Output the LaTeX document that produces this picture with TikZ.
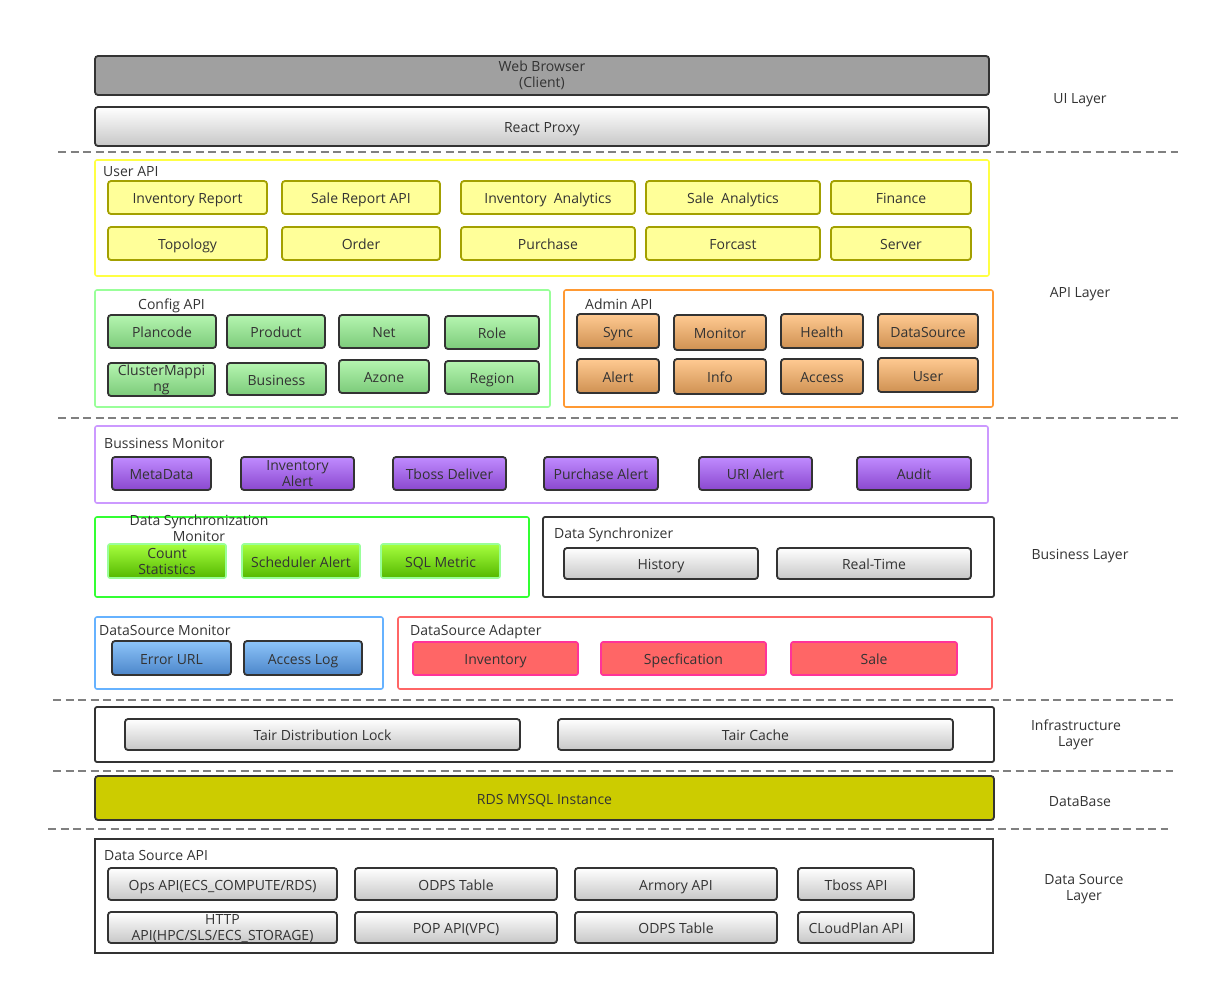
\documentclass[tikz,border=0pt]{standalone}
\usepackage{fontspec}
\setmainfont{Open Sans}
\definecolor{txt}{HTML}{333333}
\definecolor{dk}{HTML}{333333}
\definecolor{webg}{HTML}{A0A0A0}
\definecolor{yfill}{HTML}{FFFF99}
\definecolor{ydraw}{HTML}{A3A000}
\definecolor{ybox}{HTML}{FFFF44}
\definecolor{gtop}{HTML}{B5F5B0}
\definecolor{gbot}{HTML}{7CCB7A}
\definecolor{gbox}{HTML}{99FF99}
\definecolor{otop}{HTML}{FFCA92}
\definecolor{obot}{HTML}{CF9152}
\definecolor{obox}{HTML}{FF9933}
\definecolor{ptop}{HTML}{C08BFF}
\definecolor{pbot}{HTML}{8A48CF}
\definecolor{pbox}{HTML}{CC99FF}
\definecolor{ltop}{HTML}{A6FF3E}
\definecolor{lbot}{HTML}{55B800}
\definecolor{lbox}{HTML}{33FF33}
\definecolor{btop}{HTML}{8DC4F9}
\definecolor{bbot}{HTML}{4C86CA}
\definecolor{bbox}{HTML}{66B2FF}
\definecolor{rfill}{HTML}{FF6666}
\definecolor{rdraw}{HTML}{FF3399}
\definecolor{rbox}{HTML}{FF6666}
\definecolor{rds}{HTML}{CCCC00}
\definecolor{sep}{HTML}{808080}
\newcommand\mystrut{\rule[-4.5pt]{0pt}{21.5pt}}
% single-line box
\newcommand\bx[7]{\node[#6, minimum width={(#4-#2)*1pt}, minimum height={(#5-#3)*1pt}] (#1) at ({(#2+#4)/2},{(#3+#5)/2}) {\mystrut#7};}
% multi-line box (text shifted by #8)
\newcommand\bxm[8]{\node[#6, minimum width={(#4-#2)*1pt}, minimum height={(#5-#3)*1pt}] (#1) at ({(#2+#4)/2},{(#3+#5)/2}) {};
  \node[inner sep=0pt, align=center, text=txt] (#1t) at ([yshift=-#8pt]#1.center) {#7};}
\begin{document}
\begin{tikzpicture}[x=1pt,y=-1pt,
  font=\fontsize{14}{16}\selectfont, text=txt,
  base/.style={rectangle, inner sep=0pt, align=center, text=txt, font=\fontsize{14}{16}\selectfont},
  ctn/.style={base, rounded corners=2pt, line width=1.6pt},
  dkbox/.style={base, draw=dk, line width=1.8pt, rounded corners=3pt},
  graybox/.style={dkbox, top color=white, bottom color=black!22},
  webbox/.style={dkbox, fill=webg},
  ybtn/.style={base, draw=ydraw, line width=1.8pt, rounded corners=3pt, fill=yfill},
  gbtn/.style={dkbox, top color=gtop, bottom color=gbot},
  obtn/.style={dkbox, top color=otop, bottom color=obot},
  pbtn/.style={dkbox, top color=ptop, bottom color=pbot},
  lbtn/.style={base, draw=gbox, line width=1.6pt, rounded corners=2pt, top color=ltop, bottom color=lbot},
  bbtn/.style={dkbox, top color=btop, bottom color=bbot},
  rbtn/.style={base, draw=rdraw, line width=1.6pt, rounded corners=2pt, fill=rfill},
  rdsbox/.style={dkbox, fill=rds},
  lbl/.style={inner sep=0pt, anchor=west, text=txt, execute at begin node=\mystrut},
  layer/.style={inner sep=0pt, align=center, text=txt},
  sepline/.style={draw=sep, line width=1.5pt, dash pattern=on 8pt off 4.5pt}
]
\useasboundingbox (0,0) rectangle (1210,985);

% separators
\coordinate (s1a) at (58,152); \coordinate (s1b) at (1178,152);
\coordinate (s2a) at (58,418); \coordinate (s2b) at (1178,418);
\coordinate (s3a) at (53,700); \coordinate (s3b) at (1173,700);
\coordinate (s4a) at (53,771); \coordinate (s4b) at (1173,771);
\coordinate (s5a) at (48,829); \coordinate (s5b) at (1168,829);
\draw[sepline] (s1a) -- (s1b);
\draw[sepline] (s2a) -- (s2b);
\draw[sepline] (s3a) -- (s3b);
\draw[sepline] (s4a) -- (s4b);
\draw[sepline] (s5a) -- (s5b);

% UI layer
\bxm{web}{95}{56}{989}{95}{webbox}{Web Browser\\(Client)}{0}
\bx{proxy}{95}{107}{989}{146}{graybox}{React Proxy}

% User API
\bx{userapi}{95}{160}{989}{276}{ctn, draw=ybox}{}
\node[lbl] (userlbl) at (103,170) {User API};
\bx{u1}{108}{181}{267}{214}{ybtn}{Inventory Report}
\bx{u2}{282}{181}{440}{214}{ybtn}{Sale Report API}
\bx{u3}{461}{181}{635}{214}{ybtn}{Inventory\ \ Analytics}
\bx{u4}{646}{181}{820}{214}{ybtn}{Sale\ \ Analytics}
\bx{u5}{831}{181}{971}{214}{ybtn}{Finance}
\bx{u6}{108}{227}{267}{260}{ybtn}{Topology}
\bx{u7}{282}{227}{440}{260}{ybtn}{Order}
\bx{u8}{461}{227}{635}{260}{ybtn}{Purchase}
\bx{u9}{646}{227}{820}{260}{ybtn}{Forcast}
\bx{u10}{831}{227}{971}{260}{ybtn}{Server}

% Config API
\bx{cfg}{95}{290}{550}{407}{ctn, draw=gbox}{}
\node[lbl] (cfglbl) at (138,303) {Config API};
\bx{c1}{108}{315}{216}{348}{gbtn}{Plancode}
\bx{c2}{227}{315}{325}{348}{gbtn}{Product}
\bx{c3}{339}{315}{429}{348}{gbtn}{Net}
\bx{c4}{445}{316}{539}{349}{gbtn}{Role}
\bxm{c5}{108}{363}{215}{396}{gbtn}{ClusterMappi\\ng}{0.5}
\bx{c6}{227}{363}{326}{395}{gbtn}{Business}
\bx{c7}{339}{360}{429}{393}{gbtn}{Azone}
\bx{c8}{445}{361}{539}{394}{gbtn}{Region}

% Admin API
\bx{adm}{564}{290}{993}{407}{ctn, draw=obox}{}
\node[lbl] (admlbl) at (585,303) {Admin API};
\bx{a1}{577}{314}{659}{348}{obtn}{Sync}
\bx{a2}{674}{315}{766}{350}{obtn}{Monitor}
\bx{a3}{781}{314}{863}{348}{obtn}{Health}
\bx{a4}{878}{314}{978}{348}{obtn}{DataSource}
\bx{a5}{577}{359}{659}{393}{obtn}{Alert}
\bx{a6}{674}{359}{766}{394}{obtn}{Info}
\bx{a7}{781}{359}{863}{394}{obtn}{Access}
\bx{a8}{878}{358}{978}{392}{obtn}{User}

% Bussiness Monitor
\bx{bm}{95}{426}{988}{503}{ctn, draw=pbox}{}
\node[lbl] (bmlbl) at (104,442) {Bussiness Monitor};
\bx{p1}{112}{457}{211}{490}{pbtn}{MetaData}
\bxm{p2}{241}{457}{354}{490}{pbtn}{Inventory\\Alert}{0}
\bx{p3}{393}{457}{506}{490}{pbtn}{Tboss Deliver}
\bx{p4}{544}{457}{658}{490}{pbtn}{Purchase Alert}
\bx{p5}{699}{457}{812}{490}{pbtn}{URI Alert}
\bx{p6}{857}{457}{971}{490}{pbtn}{Audit}

% Data Synchronization Monitor
\bx{dsm}{95}{517}{529}{597}{ctn, draw=lbox}{}
\node[layer] (dsmlbl) at (199,528.5) {Data Synchronization\\Monitor};
\bxm{l1}{108}{544}{226}{578}{lbtn}{Count\\Statistics}{0}
\bx{l2}{242}{544}{360}{578}{lbtn}{Scheduler Alert}
\bx{l3}{381}{544}{500}{578}{lbtn}{SQL Metric}

% Data Synchronizer
\bx{dsy}{543}{517}{994}{597}{ctn, draw=dk, line width=1.8pt}{}
\node[lbl] (dsylbl) at (554,532) {Data Synchronizer};
\bx{h1}{564}{548}{758}{579}{graybox}{History}
\bx{h2}{777}{548}{971}{579}{graybox}{Real-Time}

% DataSource Monitor
\bx{dmon}{95}{617}{383}{689}{ctn, draw=bbox}{}
\node[lbl] (dmonlbl) at (99,629) {DataSource Monitor};
\bx{b1}{112}{641}{231}{675}{bbtn}{Error URL}
\bx{b2}{244}{641}{362}{675}{bbtn}{Access Log}

% DataSource Adapter
\bx{dad}{398}{617}{992}{689}{ctn, draw=rbox}{}
\node[lbl] (dadlbl) at (410,629) {DataSource Adapter};
\bx{r1}{413}{642}{578}{675}{rbtn}{Inventory}
\bx{r2}{601}{642}{766}{675}{rbtn}{Specfication}
\bx{r3}{791}{642}{957}{675}{rbtn}{Sale}

% Infrastructure
\bx{infra}{95}{707}{994}{762}{ctn, draw=dk, line width=1.8pt}{}
\bx{t1}{125}{719}{520}{750}{graybox}{Tair Distribution Lock}
\bx{t2}{558}{719}{953}{750}{graybox}{Tair Cache}

% Database
\bx{rdsn}{95}{776}{994}{820}{rdsbox}{RDS MYSQL Instance}

% Data Source API
\bx{dsapi}{95}{839}{993}{953}{base, draw=dk, line width=1.8pt}{}
\node[lbl] (dsapilbl) at (104,854) {Data Source API};
\bx{d1}{108}{868}{337}{900}{graybox}{Ops API(ECS\_COMPUTE/RDS)}
\bx{d2}{355}{868}{557}{900}{graybox}{ODPS Table}
\bx{d3}{575}{868}{777}{900}{graybox}{Armory API}
\bx{d4}{798}{868}{914}{900}{graybox}{Tboss API}
\bxm{d5}{108}{912}{337}{943}{graybox}{HTTP\\API(HPC/SLS/ECS\_STORAGE)}{1.5}
\bx{d6}{355}{912}{557}{943}{graybox}{POP API(VPC)}
\bx{d7}{575}{912}{777}{943}{graybox}{ODPS Table}
\bx{d8}{798}{912}{914}{943}{graybox}{CLoudPlan API}

% layer labels
\node[lbl, anchor=center] (ly1) at (1080,97) {UI Layer};
\node[lbl, anchor=center] (ly2) at (1080,291) {API Layer};
\node[lbl, anchor=center] (ly3) at (1080,553) {Business Layer};
\node[layer] (ly4) at (1076,734.5) {Infrastructure\\Layer};
\node[lbl, anchor=center] (ly5) at (1080,800) {DataBase};
\node[layer] (ly6) at (1084,889.5) {Data Source\\Layer};
\end{tikzpicture}
\end{document}
